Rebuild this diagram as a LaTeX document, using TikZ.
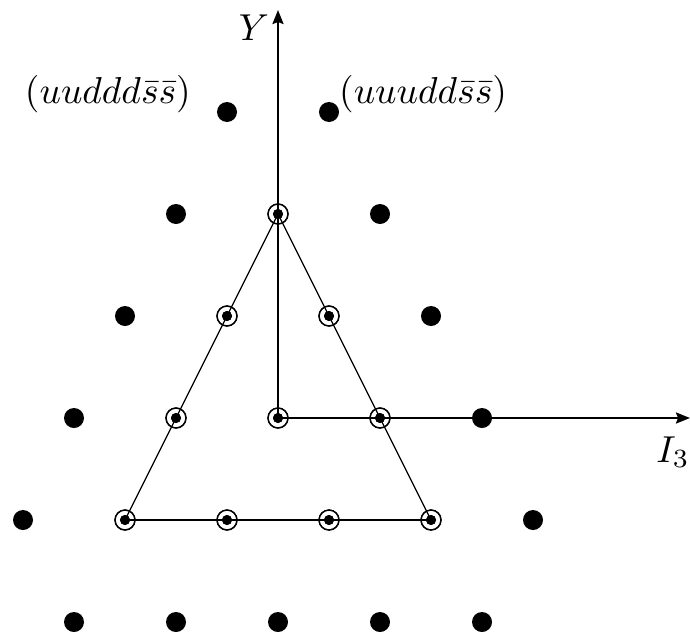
\documentclass[tikz,border=0pt]{standalone}
\usepackage{graphicx}
\usetikzlibrary{arrows.meta}
\begin{document}
\begin{tikzpicture}[x=1pt,y=-1pt,
  bigdot/.style={circle,fill=black,inner sep=0pt,minimum size=20pt},
  ringdot/.style={circle,draw=black,line width=1.3pt,inner sep=0pt,minimum size=20pt,
    path picture={\fill[black] (path picture bounding box.center) circle (5pt);}},
  axis/.style={line width=2.2pt,-{Stealth[length=14pt,width=11pt,inset=2pt]}},
  edge/.style={line width=1.3pt},
  lbl/.style={inner sep=0pt}]
\useasboundingbox (0,0) rectangle (690,640);
% origin
\coordinate (O) at (278,418);
\coordinate (ytop) at (278,10);
\coordinate (xend) at (690,418);
\draw[axis] (O) -- (ytop);
\draw[axis] (O) -- (xend);
% ringed points
\node[ringdot] (t) at (278,214) {};
\node[ringdot] (r1a) at (227,316) {};
\node[ringdot] (r1b) at (329,316) {};
\node[ringdot] (r2a) at (176,418) {};
\node[ringdot] (r2b) at (278,418) {};
\node[ringdot] (r2c) at (380,418) {};
\node[ringdot] (bl) at (125,520) {};
\node[ringdot] (b2) at (227,520) {};
\node[ringdot] (b3) at (329,520) {};
\node[ringdot] (br) at (431,520) {};
\draw[edge] (t.center) -- (bl.center);
\draw[edge] (t.center) -- (br.center);
\draw[line width=2pt] (bl.center) -- (br.center);
\foreach \n in {t,r1a,r1b,r2a,r2b,r2c,bl,b2,b3,br}{
  \node[ringdot] at (\n) {};}
% big dots
\node[bigdot] (d1) at (227,112) {};
\node[bigdot] (d2) at (329,112) {};
\node[bigdot] (d3) at (176,214) {};
\node[bigdot] (d4) at (380,214) {};
\node[bigdot] (d5) at (125,316) {};
\node[bigdot] (d6) at (431,316) {};
\node[bigdot] (d7) at (74,418) {};
\node[bigdot] (d8) at (482,418) {};
\node[bigdot] (d9) at (23,520) {};
\node[bigdot] (d10) at (533,520) {};
\node[bigdot] (e1) at (74,622) {};
\node[bigdot] (e2) at (176,622) {};
\node[bigdot] (e3) at (278,622) {};
\node[bigdot] (e4) at (380,622) {};
\node[bigdot] (e5) at (482,622) {};
% labels
\node[lbl,anchor=east] (lL) at (191,94) {\scalebox{3.75}{$(uuddd\bar{s}\bar{s})$}};
\node[lbl,anchor=west] (lR) at (339,94) {\scalebox{3.75}{$(uuudd\bar{s}\bar{s})$}};
\node[lbl] (Y) at (254,28) {\scalebox{3.75}{$Y$}};
\node[lbl] (I) at (673,452) {\scalebox{3.75}{$I_3$}};
\end{tikzpicture}
\end{document}
